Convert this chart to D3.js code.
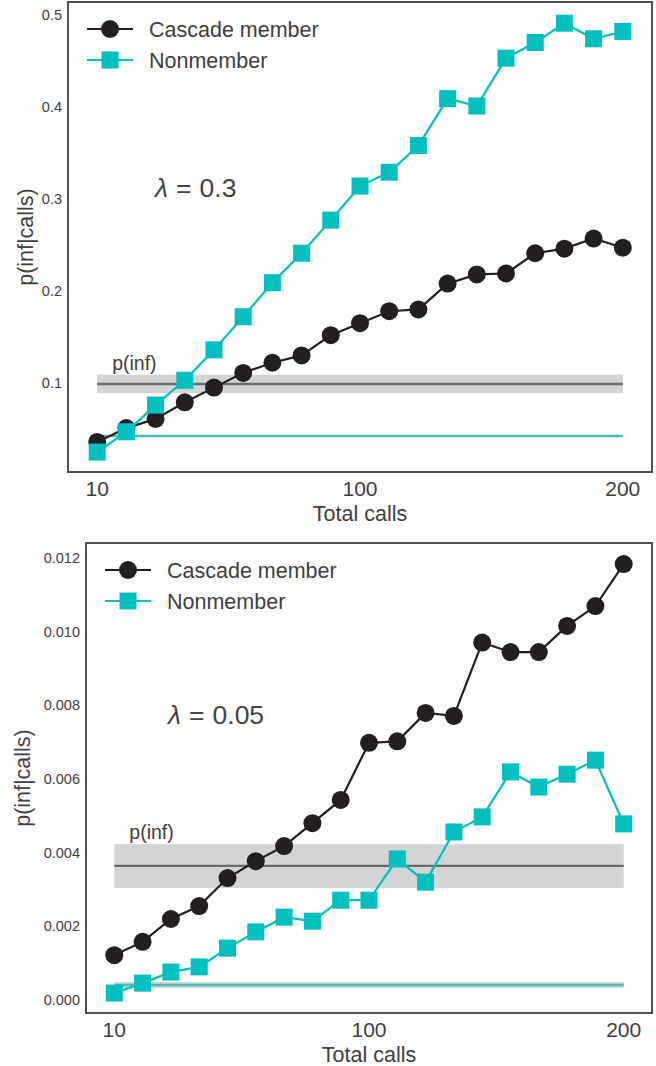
<!DOCTYPE html>
<html>
<head>
<meta charset="utf-8">
<script src="https://cdn.jsdelivr.net/npm/d3@7"></script>
<style>
  html, body { margin: 0; padding: 0; background: #fff; }
  svg { display: block; }
  text { font-family: "Liberation Sans", Arial, Helvetica, sans-serif; fill: #404040; }
</style>
</head>
<body>
<svg id="chart" width="656" height="1066"></svg>
<script>
// ---------- data ----------
const callBins = [1, 2, 3, 4, 5, 6, 7, 8, 9, 10, 11, 12, 13, 14, 15, 16, 17, 18, 19];
const xTickBins = [1, 10, 19];
const xTickLabels = ["10", "100", "200"];
const seriesNames = ["Cascade member", "Nonmember"];

// lambda = 0.3
const cascadeTop = [0.036, 0.051, 0.061, 0.079, 0.095, 0.111, 0.122, 0.130, 0.152, 0.165,
                    0.178, 0.180, 0.208, 0.218, 0.219, 0.241, 0.246, 0.257, 0.247];
const nonmemberTop = [0.025, 0.047, 0.076, 0.103, 0.136, 0.172, 0.209, 0.241, 0.277, 0.314,
                      0.329, 0.358, 0.409, 0.401, 0.453, 0.470, 0.491, 0.474, 0.482];
const pInfTop = { mean: 0.099, lo: 0.089, hi: 0.109 };
const baseTop = { mean: 0.0424, lo: 0.0412, hi: 0.0436 };
const yTicksTop = [0.1, 0.2, 0.3, 0.4, 0.5];
const yDomainTop = [0.0033, 0.514];

// lambda = 0.05
const cascadeBottom = [0.00122, 0.00158, 0.00220, 0.00255, 0.00331, 0.00377, 0.00418, 0.00480, 0.00543, 0.00698,
                       0.00702, 0.00779, 0.00771, 0.00970, 0.00944, 0.00944, 0.01015, 0.01069, 0.01183];
const nonmemberBottom = [0.00019, 0.00046, 0.00076, 0.00090, 0.00141, 0.00185, 0.00225, 0.00214, 0.00271, 0.00271,
                         0.00383, 0.00320, 0.00456, 0.00497, 0.00619, 0.00578, 0.00613, 0.00651, 0.00478];
const pInfBottom = { mean: 0.00364, lo: 0.00304, hi: 0.00423 };
const baseBottom = { mean: 0.00041, lo: 0.00033, hi: 0.00049 };
const yTicksBottom = [0.000, 0.002, 0.004, 0.006, 0.008, 0.010, 0.012];
const yDomainBottom = [-0.00035, 0.0124];

// ---------- layout / style ----------
const colors = { cascade: "#231f20", non: "#00bfbf", base: "#4cb9b9", pinf: "#6b6b6b", band: "#d3d4d6", frame: "#505050" };

const panels = [
  { left: 68, right: 652, top: 2, bottom: 472, yDomain: yDomainTop, yTicks: yTicksTop, fmt: ".1f",
    cascade: cascadeTop, non: nonmemberTop, pinf: pInfTop, base: baseTop, lambda: "0.3",
    lambdaX: 155, lambdaY: 197, yLabelX: 33 },
  { left: 86, right: 652, top: 543, bottom: 1013, yDomain: yDomainBottom, yTicks: yTicksBottom, fmt: ".3f",
    cascade: cascadeBottom, non: nonmemberBottom, pinf: pInfBottom, base: baseBottom, lambda: "0.05",
    lambdaX: 168, lambdaY: 724, yLabelX: 30 }
];

const svg = d3.select("#chart");

panels.forEach(p => {
  const g = svg.append("g");
  const x = d3.scalePoint().domain(callBins).range([p.left, p.right]).padding(1);
  const y = d3.scaleLinear().domain(p.yDomain).range([p.bottom, p.top]);
  const x0 = x(callBins[0]), x1 = x(callBins[callBins.length - 1]);

  // y tick labels
  g.append("g").selectAll("text").data(p.yTicks).join("text")
    .attr("x", p.left - 6).attr("y", d => y(d)).attr("dy", "0.35em")
    .attr("text-anchor", "end").attr("font-size", 14.5)
    .text(d => d3.format(p.fmt)(d));

  // x tick labels
  g.append("g").selectAll("text").data(xTickBins).join("text")
    .attr("x", d => x(d)).attr("y", p.bottom + 24)
    .attr("text-anchor", "middle").attr("font-size", 21)
    .text((d, i) => xTickLabels[i]);

  // axis titles
  g.append("text").attr("x", (p.left + p.right) / 2).attr("y", p.bottom + 49)
    .attr("text-anchor", "middle").attr("font-size", 21.5).text("Total calls");
  g.append("text")
    .attr("transform", `translate(${p.yLabelX},${(p.top + p.bottom) / 2}) rotate(-90)`)
    .attr("text-anchor", "middle").attr("font-size", 21.5).text("p(inf|calls)");

  // p(inf) band + line
  g.append("rect").attr("x", x0).attr("width", x1 - x0)
    .attr("y", y(p.pinf.hi)).attr("height", y(p.pinf.lo) - y(p.pinf.hi))
    .attr("fill", colors.band);
  g.append("line").attr("x1", x0).attr("x2", x1).attr("y1", y(p.pinf.mean)).attr("y2", y(p.pinf.mean))
    .attr("stroke", colors.pinf).attr("stroke-width", 2.4);
  g.append("text").attr("x", x0 + 15).attr("y", y(p.pinf.hi) - 5)
    .attr("font-size", 19.5).text("p(inf)");

  // baseline band + line
  g.append("rect").attr("x", x0).attr("width", x1 - x0)
    .attr("y", y(p.base.hi)).attr("height", Math.max(1, y(p.base.lo) - y(p.base.hi)))
    .attr("fill", colors.band);
  g.append("line").attr("x1", x0).attr("x2", x1).attr("y1", y(p.base.mean)).attr("y2", y(p.base.mean))
    .attr("stroke", colors.base).attr("stroke-width", 2.4);

  // lambda annotation
  const lt = g.append("text").attr("x", p.lambdaX).attr("y", p.lambdaY)
    .attr("font-family", "DejaVu Sans").attr("font-size", 26.5).style("fill", "#444444");
  lt.append("tspan").attr("font-style", "italic").text("λ");
  lt.append("tspan").attr("dx", 8).text("=");
  lt.append("tspan").attr("dx", 8).text(p.lambda);

  const line = d3.line().x((d, i) => x(callBins[i])).y(d => y(d));

  // cascade series
  g.append("path").datum(p.cascade).attr("d", line).attr("fill", "none")
    .attr("stroke", colors.cascade).attr("stroke-width", 2.2);
  g.append("g").selectAll("circle").data(p.cascade).join("circle")
    .attr("cx", (d, i) => x(callBins[i])).attr("cy", d => y(d)).attr("r", 9)
    .attr("fill", colors.cascade);

  // nonmember series
  g.append("path").datum(p.non).attr("d", line).attr("fill", "none")
    .attr("stroke", colors.non).attr("stroke-width", 2.2);
  g.append("g").selectAll("rect").data(p.non).join("rect")
    .attr("x", (d, i) => x(callBins[i]) - 8.5).attr("y", d => y(d) - 8.5)
    .attr("width", 17).attr("height", 17).attr("fill", colors.non);

  // frame
  g.append("rect").attr("x", p.left).attr("y", p.top)
    .attr("width", p.right - p.left).attr("height", p.bottom - p.top)
    .attr("fill", "none").attr("stroke", colors.frame).attr("stroke-width", 2);

  // legend
  const lg = g.append("g").attr("transform", `translate(${p.left},${p.top})`);
  seriesNames.forEach((name, i) => {
    const ly = 27 + i * 31;
    const c = i === 0 ? colors.cascade : colors.non;
    lg.append("line").attr("x1", 19).attr("x2", 65).attr("y1", ly).attr("y2", ly)
      .attr("stroke", c).attr("stroke-width", 2.2);
    if (i === 0) lg.append("circle").attr("cx", 42).attr("cy", ly).attr("r", 9).attr("fill", c);
    else lg.append("rect").attr("x", 42 - 8.5).attr("y", ly - 8.5).attr("width", 17).attr("height", 17).attr("fill", c);
    lg.append("text").attr("x", 81).attr("y", ly).attr("dy", "0.35em")
      .attr("font-size", 21.5).text(name);
  });
});
</script>
</body>
</html>
